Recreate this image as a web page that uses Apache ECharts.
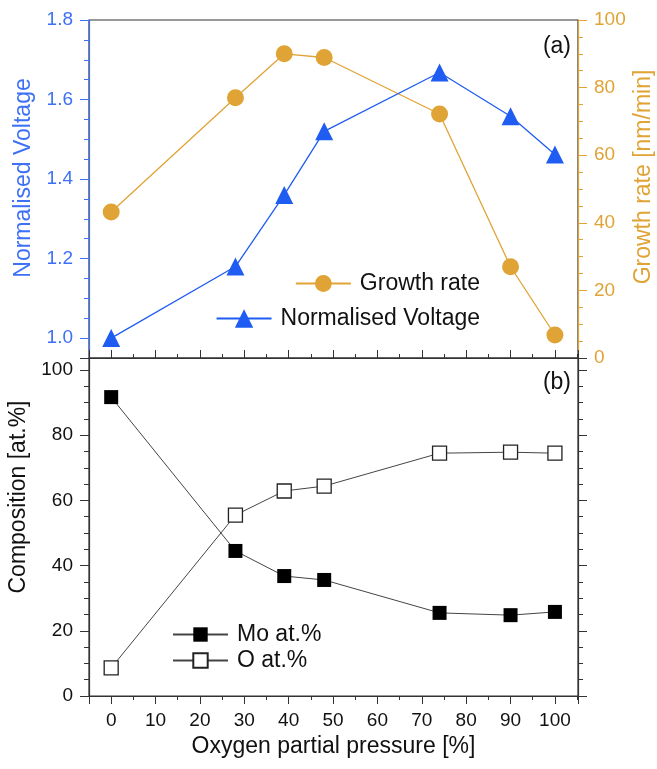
<!DOCTYPE html>
<html>
<head>
<meta charset="utf-8">
<script src="https://cdn.jsdelivr.net/npm/echarts@6/dist/echarts.min.js"></script>
<style>
  html, body { margin: 0; padding: 0; background: #fff; }
  #chart { width: 657px; height: 769px; }
</style>
</head>
<body>
<div id="chart"></div>
<script>
// oxygen partial pressure [%]
const oxygen = [0, 28, 39, 48, 74, 90, 100]
// panel (a)
const voltage = [1.0, 1.18, 1.36, 1.52, 1.668, 1.558, 1.462]
const growth = [43.2, 77, 90, 88.9, 72.2, 27, 6.8]
// panel (b)
const moAt = [91.7, 44.5, 36.8, 35.6, 25.5, 24.8, 25.8]
const oAt = [8.6, 55.5, 62.9, 64.4, 74.5, 74.8, 74.5]

const blue = '#1f5cf2'
const blueAxis = '#3d70f5'
const orange = '#e0a335'
const dark = '#333'
const font = 'Liberation Sans, Arial, sans-serif'

const chart = echarts.init(document.getElementById('chart'), null, { renderer: 'canvas' })

const pairs = ys => oxygen.map((x, i) => [x, ys[i]])

function xAxisBase(gridIndex) {
  return {
    type: 'value', gridIndex, min: -5, max: 105.2, splitNumber: 11,
    axisLine: { show: true, onZero: false, lineStyle: { color: dark, width: 1.2 } },
    splitLine: { show: false },
    axisLabel: { show: false },
  }
}

function yAxisBase(gridIndex, position, color) {
  return {
    type: 'value', gridIndex, position,
    axisLine: { show: true, onZero: false, lineStyle: { color, width: 1.2 } },
    axisTick: { show: true, length: 9, lineStyle: { color } },
    minorTick: { show: true, splitNumber: 4, length: 5, lineStyle: { color } },
    splitLine: { show: false },
  }
}

chart.setOption({
  animation: false,
  textStyle: { fontFamily: font },
  grid: [
    { left: 89, right: 79, top: 20, height: 338, show: true, borderColor: dark, borderWidth: 1.2, outerBoundsMode: 'none' },
    { left: 89, right: 79, top: 358, height: 338, show: true, borderColor: dark, borderWidth: 1.2, outerBoundsMode: 'none' },
  ],
  xAxis: [
    {
      ...xAxisBase(0),
      axisTick: { inside: true, length: 8, lineStyle: { color: dark } },
      minorTick: { show: true, splitNumber: 2, length: 4, lineStyle: { color: dark } },
    },
    {
      ...xAxisBase(1),
      axisTick: { length: 8, lineStyle: { color: dark } },
      minorTick: { show: true, splitNumber: 2, length: 4, lineStyle: { color: dark } },
      axisLabel: { show: true, showMinLabel: false, showMaxLabel: false, margin: 15, fontSize: 19, color: '#111' },
      name: 'Oxygen partial pressure [%]', nameLocation: 'middle', nameGap: 39,
      nameTextStyle: { fontSize: 23, color: '#111' },
    },
  ],
  yAxis: [
    {
      ...yAxisBase(0, 'left', blueAxis), min: 0.95, max: 1.8, splitNumber: 4,
      axisLabel: { margin: 16, fontSize: 19, color: blueAxis, showMinLabel: false, formatter: v => v.toFixed(1) },
      name: 'Normalised Voltage', nameLocation: 'middle', nameGap: 54,
      nameTextStyle: { fontSize: 23, color: blueAxis, padding: [0, 0, 0, 22] },
    },
    {
      ...yAxisBase(0, 'right', orange), min: 0, max: 100, interval: 20,
      axisLabel: { margin: 16, fontSize: 19, color: orange },
      name: 'Growth rate [nm/min]', nameLocation: 'middle', nameGap: 54, nameMoveOverlap: false,
      nameTextStyle: { fontSize: 23, color: orange, padding: [0, 0, 0, 24] },
    },
    {
      ...yAxisBase(1, 'left', dark), min: 0, max: 103.7, interval: 20,
      axisLabel: { margin: 16, fontSize: 19, color: '#111', showMaxLabel: false },
      name: 'Composition [at.%]', nameLocation: 'middle', nameGap: 54,
      nameTextStyle: { fontSize: 23, color: '#111', padding: [0, 0, 0, 60] },
    },
    {
      ...yAxisBase(1, 'right', dark), min: 0, max: 103.7, interval: 20,
      axisLabel: { show: false },
    },
  ],
  legend: [
    {
      data: ['Growth rate'], right: 172, top: 267, itemWidth: 55, itemHeight: 21,
      textStyle: { fontSize: 23, color: '#111', padding: [0, 0, 0, 4] },
    },
    {
      data: ['Normalised Voltage'], right: 172, top: 302, itemWidth: 55, itemHeight: 23,
      textStyle: { fontSize: 23, color: '#111', padding: [0, 0, 0, 4] },
    },
    {
      data: ['Mo at.%', 'O at.%'], left: 167, top: 618, orient: 'vertical', itemGap: 3,
      itemWidth: 55, itemHeight: 18,
      textStyle: { fontSize: 23, color: '#111', padding: [0, 0, 0, 4] },
    },
  ],
  graphic: [
    { type: 'text', x: 571, y: 47, style: { text: '(a)', fontSize: 23, fontFamily: font, fill: '#111', textAlign: 'right', textVerticalAlign: 'middle' } },
    { type: 'text', x: 571, y: 383, style: { text: '(b)', fontSize: 23, fontFamily: font, fill: '#111', textAlign: 'right', textVerticalAlign: 'middle' } },
  ],
  series: [
    {
      name: 'Growth rate', type: 'line', xAxisIndex: 0, yAxisIndex: 1, data: pairs(growth),
      symbol: 'circle', symbolSize: 17,
      lineStyle: { color: orange, width: 1.3 }, itemStyle: { color: orange },
    },
    {
      name: 'Normalised Voltage', type: 'line', xAxisIndex: 0, yAxisIndex: 0, data: pairs(voltage),
      symbol: 'triangle', symbolSize: 18,
      lineStyle: { color: blue, width: 1.3 }, itemStyle: { color: blue },
    },
    {
      name: 'Mo at.%', type: 'line', xAxisIndex: 1, yAxisIndex: 2, data: pairs(moAt),
      symbol: 'rect', symbolSize: 14,
      lineStyle: { color: '#444', width: 1 }, itemStyle: { color: '#000' },
    },
    {
      name: 'O at.%', type: 'line', xAxisIndex: 1, yAxisIndex: 2, data: pairs(oAt),
      symbol: 'rect', symbolSize: 14,
      lineStyle: { color: '#444', width: 1 }, itemStyle: { color: '#fff', borderColor: '#222', borderWidth: 1.3 },
    },
  ],
})
</script>
</body>
</html>
